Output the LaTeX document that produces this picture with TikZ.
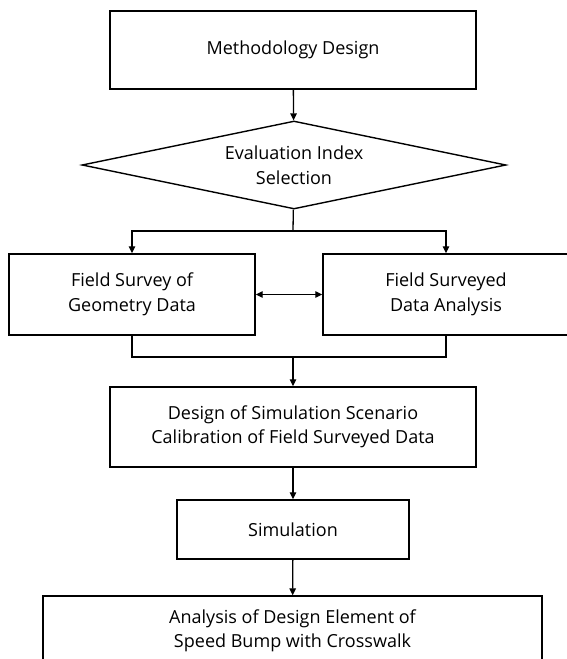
\documentclass[tikz,border=0pt]{standalone}
\usepackage{fontspec}
\setmainfont{Open Sans}
\usepackage{tikz}
\usetikzlibrary{shapes.geometric, arrows.meta, positioning}
\definecolor{linecolor}{RGB}{0,0,0}

\begin{document}
\begin{tikzpicture}[
    x=1pt, y=-1pt,
    stepbox/.style={draw=linecolor, line width=1.4pt, fill=white, align=center, inner sep=0pt, font=\fontsize{18}{24.5}\selectfont},
    decision/.style={draw=linecolor, line width=1.4pt, diamond, aspect=4.8, inner sep=0pt, align=center, font=\fontsize{18}{24.5}\selectfont},
    flow/.style={-{Triangle[length=7pt, width=6.5pt]}, line width=1.3pt, linecolor},
    link/.style={line width=1.3pt, linecolor}
]
    \useasboundingbox (0,0) rectangle (567,659);

    % Steps
    \node[stepbox, minimum width=366pt, minimum height=78pt] (meth) at (293,50) {Methodology Design};
    \node[decision, minimum width=424pt, minimum height=88pt] (eval) at (294,165) {Evaluation Index\\Selection};

    \node[stepbox, minimum width=246pt, minimum height=81pt] (geom) at (132,294.5) {Field Survey of\\Geometry Data};
    \node[stepbox, minimum width=246pt, minimum height=81pt] (survey) at (446,294.5) {Field Surveyed\\Data Analysis};

    \node[stepbox, minimum width=366pt, minimum height=80pt] (scenario) at (293,427) {Design of Simulation Scenario\\Calibration of Field Surveyed Data};
    \node[stepbox, minimum width=232pt, minimum height=59pt] (sim) at (293,529.5) {Simulation};
    \node[stepbox, minimum width=499pt, minimum height=70pt] (result) at (292.5,631) {Analysis of Design Element of\\Speed Bump with Crosswalk};

    \coordinate (split) at (293,231);
    \coordinate (join) at (293,357);

    % Flows
    \draw[flow] (meth) -- (eval);
    \draw[link] (eval) -- (split);
    \draw[flow] (split) -| (geom);
    \draw[flow] (split) -| (survey);
    \draw[flow, {Triangle[length=7pt, width=6.5pt]}-{Triangle[length=7pt, width=6.5pt]}] (geom) -- (survey);
    \draw[link] (geom) |- (join) -| (survey);
    \draw[flow] (join) -- (scenario);
    \draw[flow] (scenario) -- (sim);
    \draw[flow] (sim) -- (result);
\end{tikzpicture}
\end{document}
